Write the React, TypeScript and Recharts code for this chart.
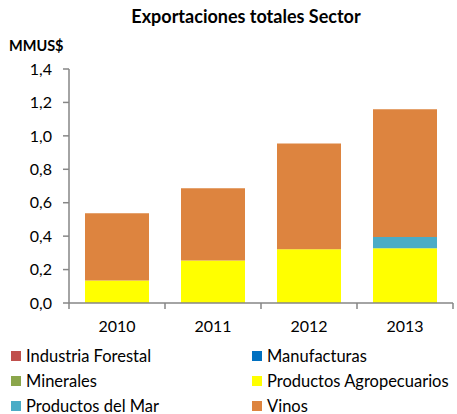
import { Bar, BarChart, XAxis, YAxis } from 'recharts';

const years = ['2010', '2011', '2012', '2013'];
const industriaForestal = [0, 0, 0, 0];
const manufacturas = [0, 0, 0, 0];
const minerales = [0, 0, 0, 0];
const agropecuarios = [0.134, 0.255, 0.321, 0.327];
const productosMar = [0, 0, 0, 0.068];
const vinos = [0.403, 0.431, 0.633, 0.764];
const yTicks = [0, 0.2, 0.4, 0.6, 0.8, 1.0, 1.2, 1.4];

const series = [
  { key: 'forestal', name: 'Industria Forestal', color: '#C0504D', values: industriaForestal },
  { key: 'manufacturas', name: 'Manufacturas', color: '#0070C0', values: manufacturas },
  { key: 'minerales', name: 'Minerales', color: '#8BA64B', values: minerales },
  { key: 'agro', name: 'Productos Agropecuarios', color: '#FFFF00', values: agropecuarios },
  { key: 'mar', name: 'Productos del Mar', color: '#4BACC6', values: productosMar },
  { key: 'vinos', name: 'Vinos', color: '#DD843F', values: vinos },
];

const data = years.map((year, i) => {
  const row: Record<string, number | string> = { year, pos: i + 0.5 };
  series.forEach((s) => {
    row[s.key] = s.values[i];
  });
  return row;
});

const xTicks = [0, 0.5, 1, 1.5, 2, 2.5, 3, 3.5, 4];
const font = 'Lato, "Noto Sans", sans-serif';
const axisColor = '#868686';

const XTick = (props: any) => {
  const { x, y, payload } = props;
  const v = payload.value;
  if (Number.isInteger(v)) {
    return <line x1={x} x2={x} y1={y} y2={y + 6} stroke={axisColor} strokeWidth={1.5} />;
  }
  return (
    <text x={x} y={y + 29} textAnchor='middle' fontSize={16} fill='#000' fontFamily={font}>
      {years[Math.floor(v)]}
    </text>
  );
};

export default function App() {
  return (
    <div style={{ position: 'absolute', left: 0, top: 0, width: 457, height: 414, background: '#fff', fontFamily: font }}>
      <div style={{ position: 'absolute', top: 5, left: 0, width: 492, textAlign: 'center', fontWeight: 'bold', fontSize: 18 }}>
        Exportaciones totales Sector
      </div>
      <div style={{ position: 'absolute', top: 37, left: 9, fontWeight: 'bold', fontSize: 14.5 }}>MMUS$</div>
      <BarChart
        width={457}
        height={340}
        data={data}
        margin={{ top: 69, right: 4, bottom: 7, left: 0 }}
      >
        <XAxis
          dataKey='pos'
          type='number'
          domain={[0, 4]}
          ticks={xTicks}
          interval={0}
          tick={<XTick />}
          tickLine={false}
          tickSize={0}
          tickMargin={0}
          height={30}
          axisLine={{ stroke: axisColor, strokeWidth: 1.5 }}
        />
        <YAxis
          width={69}
          domain={[0, 1.4]}
          ticks={yTicks}
          interval={0}
          tickFormatter={(v: number) => v.toFixed(1).replace('.', ',')}
          tick={{ fill: '#000', fontSize: 16, fontFamily: font }}
          tickSize={6}
          tickMargin={11}
          tickLine={{ stroke: axisColor, strokeWidth: 1.5 }}
          axisLine={{ stroke: axisColor, strokeWidth: 1.5 }}
        />
        {series.map((s) => (
          <Bar
            key={s.key}
            dataKey={s.key}
            name={s.name}
            stackId='total'
            fill={s.color}
            barSize={64}
            isAnimationActive={false}
          />
        ))}
      </BarChart>
      <div style={{ position: 'absolute', top: 345, left: 11, width: 450, fontSize: 16.5, display: 'grid', gridTemplateColumns: '241px 209px', rowGap: 4 }}>
        {series.map((s) => (
          <div key={s.key} style={{ display: 'flex', alignItems: 'center', height: 21 }}>
            <span style={{ width: 10, height: 10, background: s.color, marginRight: 5, display: 'inline-block' }} />
            <span>{s.name}</span>
          </div>
        ))}
      </div>
    </div>
  );
}
